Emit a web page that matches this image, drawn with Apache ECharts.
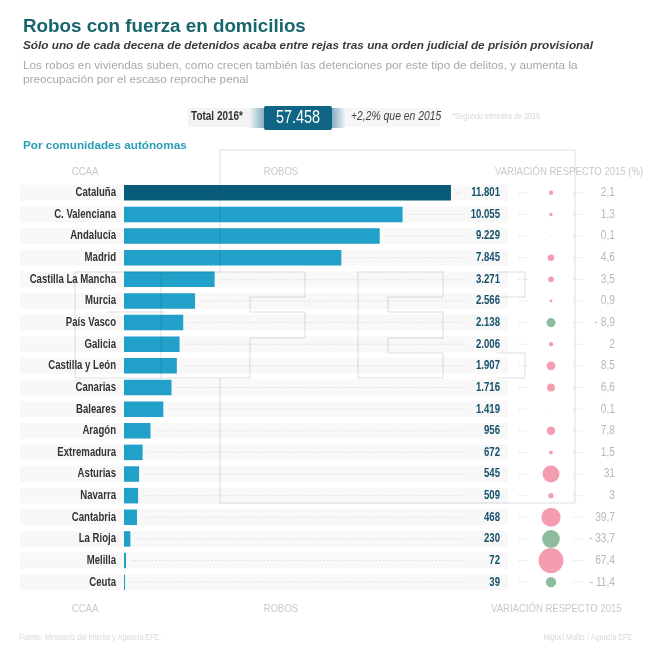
<!DOCTYPE html>
<html>
<head>
<meta charset="utf-8">
<title>Robos con fuerza en domicilios</title>
<style>
  html, body { margin: 0; padding: 0; background: #fff; }
  #chart { width: 650px; height: 653px; }
</style>
<script src="https://cdn.jsdelivr.net/npm/echarts@6/dist/echarts.min.js"></script>
</head>
<body>
<div id="chart"></div>
<script>
var categories = ['Cataluña','C. Valenciana','Andalucía','Madrid','Castilla La Mancha','Murcia','País Vasco','Galicia','Castilla y León','Canarias','Baleares','Aragón','Extremadura','Asturias','Navarra','Cantabria','La Rioja','Melilla','Ceuta'];
var robos = [11801,10055,9229,7845,3271,2566,2138,2006,1907,1716,1419,956,672,545,509,468,230,72,39];
var variacion = [2.1,1.3,0.1,4.6,3.5,0.9,-8.9,2,8.5,6.6,0.1,7.8,1.5,31,3,39.7,-33.7,67.4,-11.4];

var sans = '"Liberation Sans",Arial,sans-serif';
var squeeze = 0.83; // no condensed face installed, so narrow text is scaled
var rowSqueeze = 0.78;
var barColor = '#21a0c9';
var topColor = '#075b79';
var pink = '#f59db0';
var green = '#8dbb9e';
var ghost = 'rgba(50,60,70,0.17)';

function fmtRobos(v) {
  return String(v).replace(/\B(?=(\d{3})+$)/g, '.');
}
function fmtVar(v) {
  var s = String(Math.abs(v)).replace('.', ',');
  return v < 0 ? '- ' + s : s;
}

function txt(x, y, text, font, fill, align, scale) {
  return {
    type: 'text', x: x, y: y, silent: true, z: 5, scaleX: scale || 1,
    style: { text: text, font: font, fill: fill, align: align || 'left', verticalAlign: 'middle' }
  };
}
function ghostLine(points) {
  return {
    type: 'polyline', silent: true, z: 20,
    shape: { points: points },
    style: { stroke: ghost, lineWidth: 1, fill: null }
  };
}
function fade(x, w, toRight) {
  return {
    type: 'rect', silent: true, z: 3,
    shape: { x: x, y: 108, width: w, height: 20 },
    style: {
      fill: {
        type: 'linear', x: 0, y: 0, x2: 1, y2: 0,
        colorStops: toRight
          ? [{ offset: 0, color: '#eef3f5' }, { offset: 1, color: '#86afc0' }]
          : [{ offset: 0, color: '#86afc0' }, { offset: 1, color: '#eef3f5' }]
      }
    }
  };
}

var graphics = [
  txt(23, 27, 'Robos con fuerza en domicilios', 'bold 18.8px ' + sans, '#17666e'),
  txt(23, 46, 'Sólo uno de cada decena de detenidos acaba entre rejas tras una orden judicial de prisión provisional', 'italic bold 11.75px ' + sans, '#3a3a3a'),
  txt(23, 66, 'Los robos en viviendas suben, como crecen también las detenciones por este tipo de delitos, y aumenta la', '11.75px ' + sans, '#a8a8a8'),
  txt(23, 80, 'preocupación por el escaso reproche penal', '11.75px ' + sans, '#a8a8a8'),
  { type: 'rect', silent: true, z: 2, shape: { x: 188, y: 108, width: 62, height: 19 }, style: { fill: '#f3f3f3' } },
  { type: 'rect', silent: true, z: 2, shape: { x: 345, y: 108, width: 95, height: 19 }, style: { fill: '#f6f6f6' } },
  fade(250, 14, true),
  fade(332, 13, false),
  { type: 'rect', silent: true, z: 4, shape: { x: 264, y: 106, width: 68, height: 24, r: 2 }, style: { fill: '#0f6583' } },
  txt(217, 117, 'Total 2016*', 'bold 12px ' + sans, '#333', 'center', squeeze),
  txt(298, 118, '57.458', '19px ' + sans, '#fff', 'center', 0.76),
  txt(351, 117, '+2,2% que en 2015', 'italic 12.5px ' + sans, '#444', 'left', squeeze),
  txt(452, 117, '*Segundo trimestre de 2016.', '8.5px ' + sans, '#d8d8d8', 'left', squeeze),
  txt(23, 145.5, 'Por comunidades autónomas', 'bold 11.7px ' + sans, '#2a9db6'),
  txt(85, 172, 'CCAA', '11.5px ' + sans, '#c8c8c8', 'center', squeeze),
  txt(281, 172, 'ROBOS', '11.5px ' + sans, '#c8c8c8', 'center', squeeze),
  txt(495, 172, 'VARIACIÓN RESPECTO 2015 (%)', '11.5px ' + sans, '#c8c8c8', 'left', squeeze),
  txt(85, 609, 'CCAA', '11.5px ' + sans, '#c8c8c8', 'center', squeeze),
  txt(281, 609, 'ROBOS', '11.5px ' + sans, '#c8c8c8', 'center', squeeze),
  txt(491, 609, 'VARIACIÓN RESPECTO 2015', '11.5px ' + sans, '#c8c8c8', 'left', squeeze),
  txt(19, 638, 'Fuente: Ministerio del Interior y Agencia EFE.', '8.5px ' + sans, '#d8d8d8', 'left', squeeze),
  txt(632, 638, 'Miguel Muñiz / Agencia EFE', '8.5px ' + sans, '#d8d8d8', 'right', squeeze),
  // faint frame left over in the source image
  ghostLine([[220,272],[220,150],[575,150],[575,503],[220,503],[220,378]]),
  ghostLine([[75,378],[75,272],[305,272],[305,297],[250,297],[250,312],[305,312],[305,338],[250,338],[250,378],[75,378]]),
  ghostLine([[107,312],[165,312]]),
  ghostLine([[161,272],[161,378]]),
  ghostLine([[358,272],[443,272],[443,297],[388,297],[388,312],[443,312],[443,338],[388,338],[388,353],[443,353],[443,378],[358,378],[358,272]]),
  ghostLine([[497,272],[525,272],[525,297],[497,297]]),
  ghostLine([[497,353],[525,353],[525,378],[497,378]])
];

var chart = echarts.init(document.getElementById('chart'), null, { renderer: 'canvas' });

function rowLabel(x, y, text, font, fill, scale) {
  return {
    type: 'text', x: x, y: y, scaleX: scale,
    style: { text: text, font: font, fill: fill, align: 'right', verticalAlign: 'middle' }
  };
}

// band, dotted leaders and the three text columns of a row
function renderRow(params, api) {
  var idx = api.value(1);
  var end = api.coord([api.value(0), idx]);
  var dots = { stroke: '#dcdcdc', lineWidth: 1, lineDash: [1.5, 2] };
  var y = end[1];
  return {
    type: 'group',
    children: [
      { type: 'rect', shape: { x: 20, y: y - 8, width: 488, height: 16 }, style: { fill: '#f8f8f8' } },
      { type: 'line', shape: { x1: end[0] + 5, y1: y, x2: 463, y2: y }, style: dots },
      { type: 'line', shape: { x1: 519, y1: y, x2: 529, y2: y }, style: dots },
      { type: 'line', shape: { x1: 573, y1: y, x2: 584, y2: y }, style: dots },
      rowLabel(116, y, categories[idx], 'bold 12.3px ' + sans, '#333', rowSqueeze),
      rowLabel(500, y, fmtRobos(robos[idx]), 'bold 12.3px ' + sans, '#16506a', rowSqueeze),
      rowLabel(615, y, fmtVar(variacion[idx]), '12.3px ' + sans, '#b8b8b8', squeeze)
    ]
  };
}

chart.setOption({
  animation: false,
  backgroundColor: '#fff',
  graphic: graphics,
  grid: [
    { left: 124, top: 182, width: 384, height: 411 },
    { left: 530, top: 182, width: 42, height: 411 }
  ],
  xAxis: [
    { gridIndex: 0, type: 'value', min: 0, max: 13860, show: false },
    { gridIndex: 1, type: 'value', min: -1, max: 1, show: false }
  ],
  yAxis: [
    { gridIndex: 0, type: 'category', inverse: true, data: categories, show: false },
    { gridIndex: 1, type: 'category', inverse: true, data: categories, show: false }
  ],
  series: [
    {
      type: 'custom', xAxisIndex: 0, yAxisIndex: 0, z: 1, silent: true,
      renderItem: renderRow,
      encode: { x: 0, y: 1 },
      data: robos.map(function (v, i) { return [v, i]; })
    },
    {
      type: 'bar', xAxisIndex: 0, yAxisIndex: 0, z: 2, barWidth: 15.5, silent: true,
      data: robos.map(function (v, i) {
        return { value: v, itemStyle: { color: i === 0 ? topColor : barColor } };
      })
    },
    {
      type: 'scatter', xAxisIndex: 1, yAxisIndex: 1, z: 3, silent: true,
      symbolSize: function (d) { return 3.04 * Math.sqrt(Math.abs(d[2])); },
      data: variacion.map(function (v, i) {
        return { value: [0, i, v], itemStyle: { color: v < 0 ? green : pink, opacity: 1 } };
      })
    }
  ]
});

window.addEventListener('resize', function () { chart.resize(); });
</script>
</body>
</html>
